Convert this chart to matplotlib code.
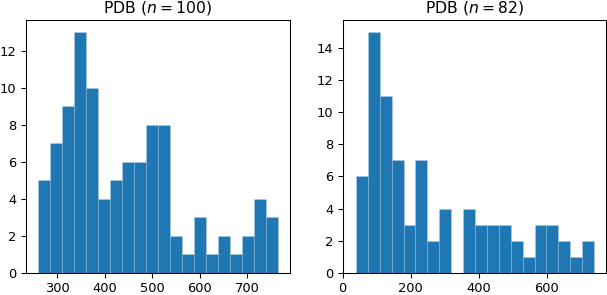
import numpy as np
import matplotlib
matplotlib.use("Agg")
import matplotlib.pyplot as plt

# Left histogram (n = 100)
left_edges_range = (259, 765)
left_counts = [5, 7, 9, 13, 10, 4, 5, 6, 6, 8, 8, 2, 1, 3, 1, 2, 1, 2, 4, 3]

# Right histogram (n = 82)
right_edges_range = (39, 739)
right_counts = [6, 15, 11, 7, 3, 7, 2, 4, 0, 4, 3, 3, 3, 2, 1, 3, 3, 2, 1, 2]

titles = ["PDB ($n=100$)", "PDB ($n=82$)"]

dpi = 94
fig = plt.figure(figsize=(607 / dpi, 295 / dpi), dpi=dpi)
ax1 = fig.add_axes([25.7 / 607, 1 - 272.7 / 295, (290 - 25.7) / 607, (272.7 - 20) / 295])
ax2 = fig.add_axes([342.7 / 607, 1 - 272.7 / 295, (606 - 342.7) / 607, (272.7 - 20) / 295])

for ax, rng, counts, title in [(ax1, left_edges_range, left_counts, titles[0]),
                               (ax2, right_edges_range, right_counts, titles[1])]:
    edges = np.linspace(rng[0], rng[1], len(counts) + 1)
    centers = (edges[:-1] + edges[1:]) / 2
    ax.hist(centers, bins=edges, weights=counts, color="#1f77b4",
            edgecolor=(1, 1, 1, 0.2), linewidth=0.5)
    ax.set_title(title)

ax1.set_yticks([0, 2, 4, 6, 8, 10, 12])
ax1.set_xticks([300, 400, 500, 600, 700])
ax2.set_yticks([0, 2, 4, 6, 8, 10, 12, 14])
ax2.set_xticks([0, 200, 400, 600])
ax2.set_xlim(0, 774)

fig.savefig("out.png", dpi=dpi)
